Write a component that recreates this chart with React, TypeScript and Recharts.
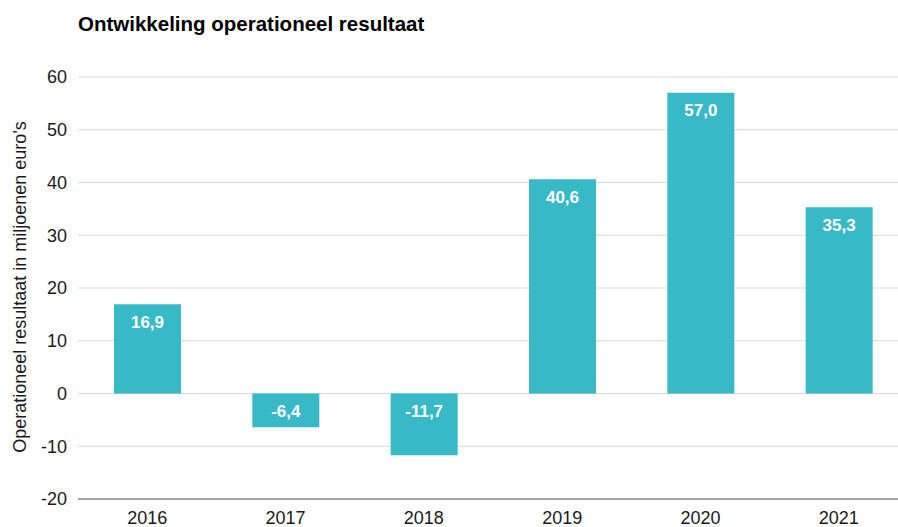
import { Bar, BarChart, CartesianGrid, LabelList, XAxis, YAxis } from "recharts";

const years = ["2016", "2017", "2018", "2019", "2020", "2021"];
const results = [16.9, -6.4, -11.7, 40.6, 57.0, 35.3];
const yTicks = [-20, -10, 0, 10, 20, 30, 40, 50, 60];

const data = years.map((year, i) => ({ year, value: results[i] }));

const FONT = "'Liberation Sans', Arial, sans-serif";

function formatNL(v: number): string {
	return v.toFixed(1).replace(".", ",");
}

function BarValue(props: any) {
	const { x, y, width, height, value } = props;
	const top = Math.min(y, y + height);
	return (
		<text
			x={x + width / 2}
			y={top + 23.5}
			textAnchor="middle"
			fill="#ffffff"
			fontWeight="bold"
			fontSize={17}
			fontFamily={FONT}>
			{formatNL(value)}
		</text>
	);
}

function AxisTitle() {
	return (
		<text
			transform="translate(26,287) rotate(-90)"
			textAnchor="middle"
			fill="#1a1a1a"
			fontSize={18}
			fontFamily={FONT}>
			Operationeel resultaat in miljoenen euro's
		</text>
	);
}

export default function App() {
	return (
		<div style={{ position: "relative", width: 898, height: 527, fontFamily: FONT }}>
			<style>{"body{margin:0}"}</style>
			<div
				style={{
					position: "absolute",
					left: 78,
					top: 12,
					fontSize: 20.5,
					fontWeight: "bold",
					color: "#000",
					whiteSpace: "nowrap",
				}}>
				Ontwikkeling operationeel resultaat
			</div>
			<BarChart
				width={898}
				height={527}
				data={data}
				margin={{ top: 77, right: 0, left: 0, bottom: 0 }}>
				<CartesianGrid stroke="#d9d9d9" vertical={false} />
				<XAxis
					dataKey="year"
					height={28}
					padding={{ left: 0, right: -10 }}
					axisLine={{ stroke: "#a6a6a6", strokeWidth: 2 }}
					tickLine={false}
					tickMargin={6}
					tick={{ fill: "#1a1a1a", fontSize: 18, fontFamily: FONT }}
				/>
				<YAxis
					width={78}
					domain={[-20, 60]}
					ticks={yTicks}
					axisLine={false}
					tickLine={false}
					tickMargin={5}
					tick={{ fill: "#1a1a1a", fontSize: 18, fontFamily: FONT }}
					label={<AxisTitle />}
				/>
				<Bar dataKey="value" fill="#38b9c7" barSize={67} isAnimationActive={false}>
					<LabelList dataKey="value" content={<BarValue />} />
				</Bar>
			</BarChart>
		</div>
	);
}
